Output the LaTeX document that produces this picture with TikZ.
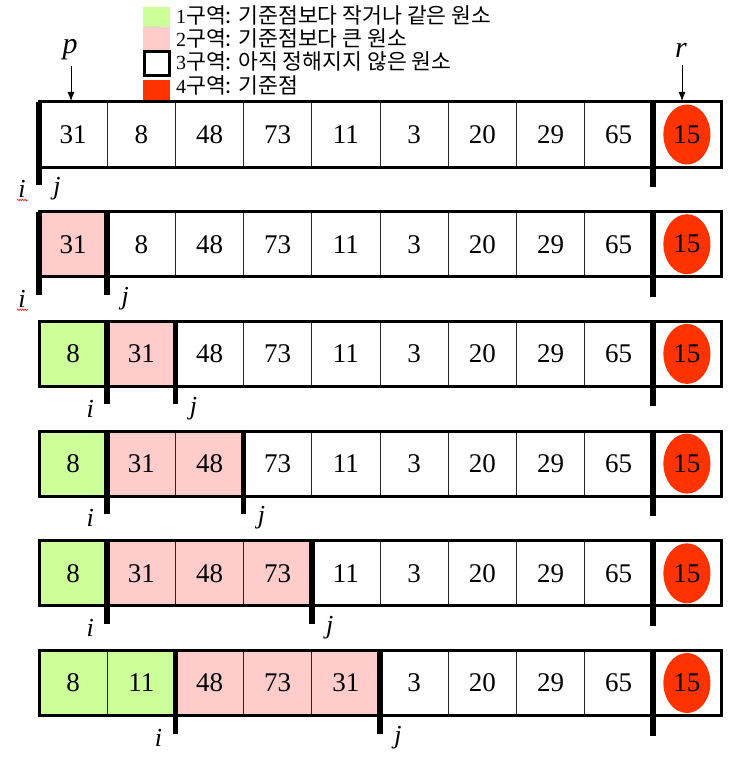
\documentclass[tikz,border=0pt]{standalone}
\usepackage{fontspec}
\setmainfont{Liberation Serif}
\newfontfamily\tnr{Liberation Serif}
\newfontfamily\krfont{Noto Sans CJK KR}
\usetikzlibrary{arrows.meta,shapes.geometric,decorations.pathmorphing}
\definecolor{zgreen}{HTML}{CCFF99}
\definecolor{zpink}{HTML}{FFCCCC}
\definecolor{zred}{HTML}{FF3300}
\tikzset{
  cell/.style={draw=black!85, line width=0.8pt, minimum width=68.2pt, minimum height=65pt,
    inner sep=0pt, outer sep=0pt, font=\tnr\fontsize{27}{30}\selectfont},
  rowframe/.style={draw=black, line width=3pt},
  bar/.style={draw=black, line width=5.5pt},
  pivot/.style={ellipse, fill=zred, minimum width=47pt, minimum height=60pt, inner sep=0pt,
    font=\tnr\fontsize{27}{30}\selectfont},
  ptrlabel/.style={font=\tnr\fontsize{30}{32}\selectfont\itshape, inner sep=0pt},
  ijlabel/.style={font=\tnr\fontsize{26}{28}\selectfont\itshape, inner sep=0pt},
  ptr/.style={-{Latex[length=9pt,width=7pt]}, line width=0.8pt},
  legsq/.style={minimum width=27pt, inner sep=0pt, outer sep=0pt},
  legtxt/.style={anchor=base west, inner sep=0pt, font=\tnr\fontsize{20}{22}\selectfont},
  squig/.style={draw=red, line width=0.5pt, decorate,
    decoration={zigzag, segment length=2.5pt, amplitude=0.9pt}}
}
\newcommand\kr[1]{{\krfont\fontsize{21.6}{22}\selectfont #1}}
\begin{document}
\begin{tikzpicture}[x=1pt,y=-1pt]
\useasboundingbox (0,0) rectangle (750,757);
% legend
\node[legsq, fill=zgreen, minimum height=20pt] (lg1) at (156.5,17) {};
\node[legsq, fill=zpink, minimum height=23pt] (lg2) at (156.5,38.5) {};
\node[legsq, draw=black, line width=3pt, minimum width=25pt, minimum height=24pt] (lg3) at (156.5,64) {};
\node[legsq, fill=zred, minimum height=22pt] (lg4) at (156.5,91) {};
\node[legtxt] (lt1) at (176,24) {1\kr{구역: 기준점보다 작거나 같은 원소}};
\node[legtxt] (lt2) at (176,47) {2\kr{구역: 기준점보다 큰 원소}};
\node[legtxt] (lt3) at (176,70) {3\kr{구역: 아직 정해지지 않은 원소}};
\node[legtxt] (lt4) at (176,93.5) {4\kr{구역: 기준점}};
% rows
\foreach \r/\vals/\g/\gp in {
  0/{31,8,48,73,11,3,20,29,65,15}/0/0,
  1/{31,8,48,73,11,3,20,29,65,15}/0/1,
  2/{8,31,48,73,11,3,20,29,65,15}/1/2,
  3/{8,31,48,73,11,3,20,29,65,15}/1/3,
  4/{8,31,48,73,11,3,20,29,65,15}/1/4,
  5/{8,11,48,73,31,3,20,29,65,15}/2/5} {
  \pgfmathsetmacro\T{102+109.7*\r}
  \foreach \v [count=\k from 0] in \vals {
    \ifnum\k<\g \def\cc{zgreen}\else\ifnum\k<\gp \def\cc{zpink}\else\def\cc{white}\fi\fi
    \ifnum\k=9
      \node[cell, fill=white] (c-\r-\k) at ({39+68.2*(\k+0.5)},{\T+32.5}) {};
      \node[pivot] (e-\r) at (c-\r-\k.center) {\v};
    \else
      \node[cell, fill=\cc] (c-\r-\k) at ({39+68.2*(\k+0.5)},{\T+32.5}) {\v};
    \fi
  }
  \draw[rowframe] (c-\r-0.north west) rectangle (c-\r-9.south east);
  % bars
  \coordinate (ib-\r) at (c-\r-\g.north west);
  \coordinate (ie-\r) at ([yshift=-18pt]c-\r-\g.south west);
  \draw[bar] (ib-\r) -- (ie-\r);
  \ifnum\gp>\g
    \coordinate (jb-\r) at (c-\r-\gp.north west);
    \coordinate (je-\r) at ([yshift=-18pt]c-\r-\gp.south west);
    \draw[bar] (jb-\r) -- (je-\r);
  \else
    \coordinate (je-\r) at (ie-\r);
  \fi
  \coordinate (rb-\r) at (c-\r-9.north west);
  \coordinate (re-\r) at ([yshift=-20pt]c-\r-9.south west);
  \draw[bar] (rb-\r) -- (re-\r);
  % labels
  \node[ijlabel] (li-\r) at ([xshift=-17pt,yshift=-4pt]ie-\r) {i};
  \node[ijlabel] (lj-\r) at ([xshift=18pt,yshift=-4pt]je-\r) {j};
}
% spell-check squiggles
\draw[squig] ([xshift=-5pt,yshift=-11pt]li-0.center) -- ([xshift=6pt,yshift=-11pt]li-0.center);
\draw[squig] ([xshift=-5pt,yshift=-11pt]li-1.center) -- ([xshift=6pt,yshift=-11pt]li-1.center);
% p and r
\node[ptrlabel] (p) at (70,50) {p};
\node[ptrlabel] (r) at (681,50) {r};
\coordinate (pt) at (71,101);
\coordinate (rt) at (682,101);
\draw[ptr] (p.south -| pt) ++(0,-6pt) -- (pt);
\draw[ptr] (r.south -| rt) ++(0,-8pt) -- (rt);
\end{tikzpicture}
\end{document}
